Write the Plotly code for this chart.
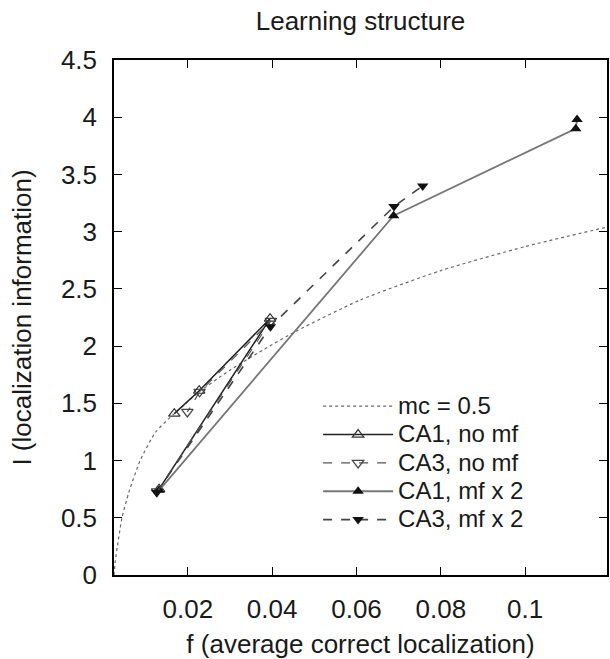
import plotly.graph_objects as go

# ---- data ----
chart_title = "Learning structure"
x_title = "f (average correct localization)"
y_title = "I (localization information)"

y_tick_vals = [0, 0.5, 1, 1.5, 2, 2.5, 3, 3.5, 4, 4.5]
y_tick_text = ["0", "0.5", "1", "1.5", "2", "2.5", "3", "3.5", "4", "4.5"]
x_tick_vals = [0.02, 0.04, 0.06, 0.08, 0.1]
x_tick_text = ["0.02", "0.04", "0.06", "0.08", "0.1"]

# theoretical curve, mc = 0.5
mc_f = [0.0025, 0.0028, 0.0033, 0.0044, 0.0060, 0.0087, 0.0124, 0.0168, 0.0227,
        0.0300, 0.0380, 0.0457, 0.0607, 0.0800, 0.1000, 0.1194]
mc_I = [0.00, 0.12, 0.25, 0.50, 0.72, 1.00, 1.25, 1.41, 1.60,
        1.79, 1.97, 2.13, 2.40, 2.66, 2.87, 3.04]

ca1_nomf_f = [0.0132, 0.0395, 0.0227, 0.0168]
ca1_nomf_I = [0.75, 2.24, 1.61, 1.41]

ca3_nomf_f = [0.0127, 0.0397, 0.0228, 0.0199]
ca3_nomf_I = [0.73, 2.22, 1.60, 1.425]

ca1_mf2_f = [0.0132, 0.0688, 0.1120, 0.1123]
ca1_mf2_I = [0.74, 3.14, 3.90, 3.98]

ca3_mf2_f = [0.0126, 0.0396, 0.0689, 0.0757]
ca3_mf2_I = [0.72, 2.17, 3.22, 3.40]

FONT = "Liberation Sans, Arial, Helvetica, sans-serif"
TXT = "#1a1a1a"


def lname(s):
    return "<span style='font-size:24px'>" + s + "</span>"


fig = go.Figure()

fig.add_trace(go.Scatter(
    x=mc_f, y=mc_I, mode="lines", name=lname("mc = 0.5"),
    line=dict(color="#6a6a6a", width=1.2, dash="dot", shape="spline", smoothing=0.6)))

fig.add_trace(go.Scatter(
    x=ca1_nomf_f, y=ca1_nomf_I, mode="lines+markers", name=lname("CA1, no mf"),
    line=dict(color="#222222", width=1.5),
    marker=dict(symbol="triangle-up-open", size=10, color="#333333", line=dict(width=1.2))))

fig.add_trace(go.Scatter(
    x=ca3_nomf_f, y=ca3_nomf_I, mode="lines+markers", name=lname("CA3, no mf"),
    line=dict(color="#555555", width=1.2, dash="dash"),
    marker=dict(symbol="triangle-down-open", size=10, color="#444444", line=dict(width=1.2))))

fig.add_trace(go.Scatter(
    x=ca1_mf2_f, y=ca1_mf2_I, mode="lines+markers", name=lname("CA1, mf x 2"),
    line=dict(color="#777777", width=1.8),
    marker=dict(symbol="triangle-up", size=10, color="#111111")))

fig.add_trace(go.Scatter(
    x=ca3_mf2_f, y=ca3_mf2_I, mode="lines+markers", name=lname("CA3, mf x 2"),
    line=dict(color="#444444", width=1.6, dash="dash"),
    marker=dict(symbol="triangle-down", size=10, color="#111111")))

axis_common = dict(
    showline=True, linecolor="black", linewidth=1.5, mirror="allticks",
    ticks="inside", ticklen=8, tickwidth=1.2, tickcolor="black",
    showgrid=False, zeroline=False,
    tickfont=dict(family=FONT, size=26, color=TXT),
)

fig.update_layout(
    width=610, height=659,
    margin=dict(l=114, r=1, t=60, b=82),
    paper_bgcolor="white", plot_bgcolor="white",
    font=dict(family=FONT, size=26, color=TXT),
    title=dict(text=chart_title, x=0.5, xref="paper", xanchor="center",
               y=0.968, yanchor="middle",
               font=dict(family=FONT, size=26, color=TXT)),
    xaxis=dict(range=[0.0025, 0.1194], tickvals=x_tick_vals, ticktext=x_tick_text,
               ticklabelstandoff=10,
               title=dict(text=x_title, standoff=16,
                          font=dict(family=FONT, size=26, color=TXT)),
               **axis_common),
    yaxis=dict(range=[0, 4.5], tickvals=y_tick_vals, ticktext=y_tick_text,
               ticklabelstandoff=10,
               title=dict(text=y_title, standoff=22,
                          font=dict(family=FONT, size=26, color=TXT)),
               **axis_common),
    legend=dict(x=0.414, xanchor="left", y=0.365, yanchor="top",
                bgcolor="rgba(0,0,0,0)", borderwidth=0,
                font=dict(family=FONT, size=19.5, color=TXT),
                itemwidth=70, traceorder="normal"),
    showlegend=True,
)

fig.write_html("out.html")
